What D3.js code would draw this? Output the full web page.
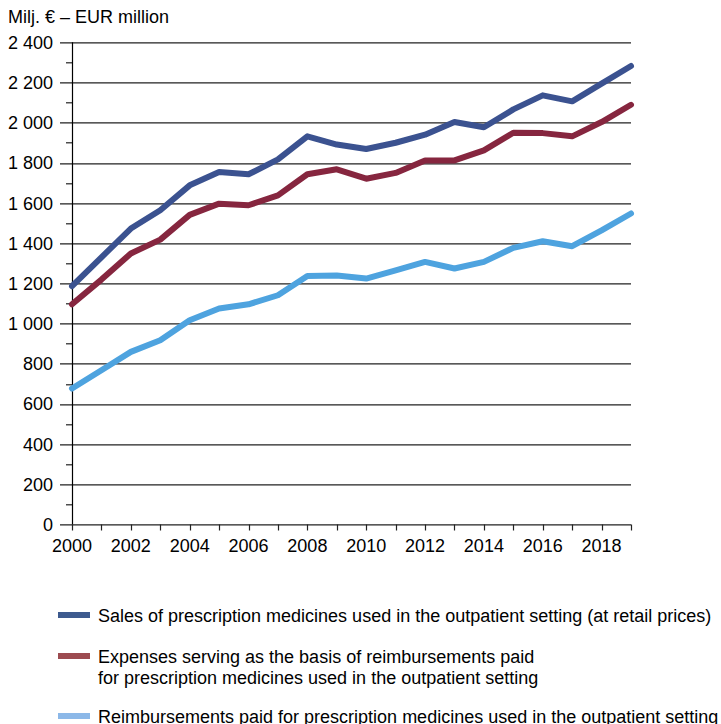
<!DOCTYPE html>
<html>
<head>
<meta charset="utf-8">
<script src="https://cdn.jsdelivr.net/npm/d3@7"></script>
<style>
body { margin: 0; background: #fff; }
text { font-family: "Liberation Sans", Arial, sans-serif; fill: #000; }
</style>
</head>
<body>
<div id="chart"></div>
<script>
var years = d3.range(2000, 2020);
var sales = [1186, 1330, 1473, 1564, 1688, 1754, 1743, 1817, 1932, 1891, 1869, 1900, 1940, 2003, 1977, 2066, 2136, 2106, 2194, 2282];
var expenses = [1096, 1219, 1349, 1418, 1541, 1597, 1589, 1638, 1743, 1768, 1721, 1750, 1812, 1812, 1862, 1950, 1948, 1932, 2003, 2089];
var reimb = [677, 768, 859, 917, 1017, 1075, 1096, 1141, 1237, 1239, 1224, 1265, 1307, 1274, 1307, 1377, 1410, 1385, 1464, 1548];
var yTicks = [0, 200, 400, 600, 800, 1000, 1200, 1400, 1600, 1800, 2000, 2200, 2400];
var labels = ["Sales of prescription medicines used in the outpatient setting (at retail prices)",
  "Expenses serving as the basis of reimbursements paid\nfor prescription medicines used in the outpatient setting",
  "Reimbursements paid for prescription medicines used in the outpatient setting"];
var colors = ["#3b5290", "#86263f", "#4ea3df"];
var swatchColors = ["#3d5a8e", "#9c4b50", "#8cb8e8"];

var margin = {top: 42.3, left: 72},
width = 631 - 72,
height = 524.5 - 42.3;

var x = d3.scaleLinear().domain([2000, 2019]).range([0, width]);
var y = d3.scaleLinear().domain([0, 2400]).range([height, 0]);

var svg = d3.select("#chart").append("svg")
.attr("width", 721)
.attr("height", 724);

svg.append("text")
.attr("x", 8).attr("y", 23)
.style("font-size", "18px")
.text("Milj. € – EUR million");

var g = svg.append("g")
.attr("transform", "translate(" + margin.left + "," + margin.top + ")");

// grid lines
g.selectAll(".grid")
.data(yTicks)
.enter().append("line")
.attr("x1", -12).attr("x2", width)
.attr("y1", function(d) { return Math.round(y(d)) + 0.5; })
.attr("y2", function(d) { return Math.round(y(d)) + 0.5; })
.attr("stroke", "#222").attr("stroke-width", 1.2);

// minor y ticks
g.selectAll(".minor")
.data(d3.range(100, 2400, 200))
.enter().append("line")
.attr("x1", -6).attr("x2", 0)
.attr("y1", function(d) { return Math.round(y(d)) + 0.5; })
.attr("y2", function(d) { return Math.round(y(d)) + 0.5; })
.attr("stroke", "#222").attr("stroke-width", 1.2);

g.selectAll(".ylab")
.data(yTicks)
.enter().append("text")
.attr("x", -19).attr("y", function(d) { return y(d) + 6.5; })
.attr("text-anchor", "end")
.style("font-size", "18px")
.text(function(d) { return d >= 1000 ? d3.format(",")(d).replace(",", " ") : d; });

// y axis line
g.append("line")
.attr("x1", 0.5).attr("x2", 0.5).attr("y1", 0).attr("y2", height)
.attr("stroke", "#000").attr("stroke-width", 1.2);

// x ticks
g.selectAll(".xtick")
.data(years)
.enter().append("line")
.attr("x1", function(d) { return Math.round(x(d)) + 0.5; })
.attr("x2", function(d) { return Math.round(x(d)) + 0.5; })
.attr("y1", height).attr("y2", height + 6)
.attr("stroke", "#222").attr("stroke-width", 1.2);

g.selectAll(".xlab")
.data(years.filter(function(d) { return d % 2 === 0; }))
.enter().append("text")
.attr("x", function(d) { return x(d); })
.attr("y", height + 28)
.attr("text-anchor", "middle")
.style("font-size", "18px")
.text(function(d) { return d; });

var line = d3.line()
.x(function(d, i) { return x(years[i]); })
.y(function(d) { return y(d); });

[reimb, expenses, sales].forEach(function(s, k) {
    g.append("path")
    .datum(s)
    .attr("fill", "none")
    .attr("stroke", colors[2 - k])
    .attr("stroke-width", 6)
    .attr("stroke-linejoin", "round")
    .attr("stroke-linecap", "round")
    .attr("d", line);
});

// legend
var legY = [615, 656, 716];
labels.forEach(function(l, i) {
    svg.append("rect")
    .attr("x", 58).attr("y", legY[i] - 3).attr("width", 32).attr("height", 6)
    .attr("fill", swatchColors[i]);
    l.split("\n").forEach(function(t, j) {
        svg.append("text")
        .attr("x", 98).attr("y", legY[i] + 6.5 + j * 21)
        .style("font-size", "18px")
        .text(t);
    });
});
</script>
</body>
</html>
